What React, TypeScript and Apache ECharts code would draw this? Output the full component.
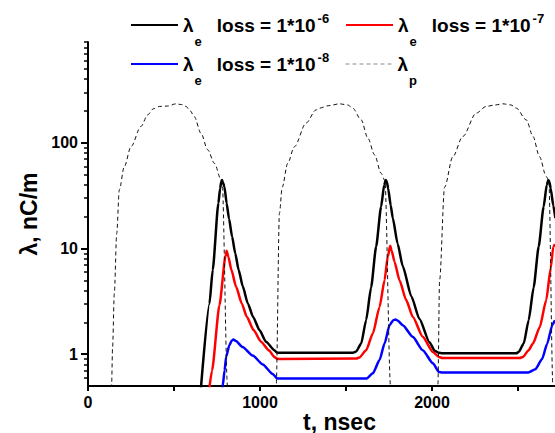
import React, { useEffect, useRef } from 'react';
import * as echarts from 'echarts';

const FONT = '"Liberation Sans", Arial, Helvetica, sans-serif';

// t (nsec) and λ (nC/m)
const blackT = [650, 706, 725, 758, 768, 775, 779, 785, 793, 806, 820, 838, 856, 876, 900, 929, 960, 997, 1035, 1084, 1097, 1110, 1540, 1559, 1588, 1617, 1646, 1675, 1704, 1722, 1731, 1738, 1745, 1760, 1772, 1800, 1830, 1880, 1927, 1985, 2015, 2040, 2060, 2490, 2504, 2533, 2562, 2591, 2620, 2649, 2667, 2676, 2683, 2690, 2705, 2717];
const blackV = [0.35, 3.0, 6.25, 26.8, 37, 43, 44.5, 42, 38.5, 26.8, 19.1, 12.9, 9.0, 6.25, 4.37, 3.02, 2.25, 1.69, 1.31, 1.09, 1.04, 1.03, 1.03, 1.06, 1.26, 2.1, 4.3, 10.4, 24.9, 40, 44.5, 42.4, 37.0, 25.5, 19.4, 11.1, 6.8, 3.52, 2.15, 1.30, 1.08, 1.03, 1.02, 1.02, 1.05, 1.26, 2.1, 4.3, 10.4, 24.9, 40, 44.5, 42.4, 37.0, 25.5, 19.4];

const redT = [700, 721, 764, 800, 806, 816, 834, 861, 894, 923, 963, 1006, 1051, 1084, 1097, 1110, 1560, 1578, 1617, 1656, 1695, 1724, 1743, 1757, 1765, 1782, 1811, 1850, 1888, 1946, 2005, 2040, 2060, 2510, 2528, 2562, 2587, 2626, 2664, 2690, 2705, 2715];
const redV = [0.4, 0.7, 2.9, 8.6, 9.5, 8.36, 6.25, 4.34, 3.02, 2.26, 1.69, 1.31, 1.09, 0.94, 0.91, 0.9, 0.91, 0.93, 1.09, 1.57, 2.8, 5.0, 8.4, 10.6, 9.6, 7.5, 5.0, 3.25, 2.26, 1.46, 1.05, 0.94, 0.92, 0.92, 0.94, 1.09, 1.26, 1.8, 3.25, 6.5, 10.4, 11];

const blueT = [778, 783, 794, 803, 822, 835, 845, 860, 899, 958, 1016, 1074, 1100, 1620, 1656, 1695, 1724, 1753, 1775, 1788, 1800, 1830, 1888, 1946, 2005, 2040, 2060, 2560, 2601, 2640, 2669, 2700, 2715];
const blueV = [0.42, 0.5, 0.7, 0.94, 1.22, 1.34, 1.38, 1.33, 1.17, 0.97, 0.8, 0.65, 0.59, 0.59, 0.66, 0.88, 1.26, 1.88, 2.1, 2.13, 2.08, 1.88, 1.46, 1.09, 0.82, 0.68, 0.67, 0.67, 0.72, 0.9, 1.25, 1.9, 2.1];

const pT = [135, 137, 143, 153, 167, 182, 211, 250, 308, 347, 380, 415, 463, 512, 545, 570, 595, 618, 657, 696, 735, 774, 780, 811, 812, 1093, 1094, 1113, 1129, 1161, 1200, 1268, 1326, 1345, 1400, 1462, 1510, 1539, 1588, 1627, 1666, 1704, 1726, 1759, 1760, 2033, 2034, 2044, 2073, 2121, 2179, 2257, 2315, 2365, 2412, 2460, 2490, 2548, 2587, 2625, 2664, 2679, 2703, 2704];
const pV = [0.3, 0.5, 1.17, 3.76, 13.9, 35.9, 59.6, 92, 143, 184, 210, 221, 223, 234, 230, 221, 200, 177, 123, 86, 64, 44.6, 43, 0.5, 0.05, 0.05, 0.5, 21.6, 38, 64, 92, 154, 205, 213, 225, 234, 228, 213, 165, 111, 77, 51.6, 44, 0.5, 0.05, 0.05, 0.5, 5, 38, 74, 115, 191, 221, 228, 234, 228, 213, 165, 115, 74, 48, 44, 0.5, 0.05];

const xTickValues = [0, 500, 1000, 1500, 2000, 2500];
const xLabelValues = [0, 1000, 2000];
const yMajorValues = [1, 10, 100];
const yMinorValues = [0.6, 0.7, 0.8, 0.9, 2, 3, 4, 5, 6, 7, 8, 9, 20, 30, 40, 50, 60, 70, 80, 90, 200, 300, 400, 500, 600, 700, 800, 900];

const seriesNames = ['λe loss = 1*10-6', 'λe loss = 1*10-7', 'λe loss = 1*10-8', 'λp'];
const legendLabels: Record<string, string> = {
  'λe loss = 1*10-6': 'λ{sub|e}loss = 1*10{sup|-6}',
  'λe loss = 1*10-7': 'λ{sub|e}loss = 1*10{sup|-7}',
  'λe loss = 1*10-8': 'λ{sub|e}loss = 1*10{sup|-8}',
  'λp': 'λ{subp|p}',
};

const zip = (t: number[], v: number[]) => t.map((x, i) => [x, v[i]]);

const subStyle = {
  fontFamily: FONT, fontWeight: 'bold' as const, fontSize: 13, color: '#000',
  verticalAlign: 'middle' as const, lineHeight: 13,
};

const legendText = {
  fontFamily: FONT,
  fontWeight: 'bold' as const,
  fontSize: 19,
  color: '#000',
  lineHeight: 20,
  verticalAlign: 'middle' as const,
  rich: {
    sub: { ...subStyle, padding: [33, 15, 0, 1] },
    subp: { ...subStyle, padding: [33, 0, 0, 1] },
    sup: { ...subStyle, padding: [0, 0, 13, 2] },
  },
};

const makeLegend = (name: string, left: number, top: number, lineColor?: string) => ({
  show: true,
  left,
  top,
  padding: 0,
  itemWidth: 47,
  itemHeight: 14,
  data: [lineColor ? { name, lineStyle: { color: lineColor, width: 1 } } : name],
  formatter: (n: string) => legendLabels[n] || n,
  textStyle: legendText,
  lineStyle: { width: 2 },
  itemStyle: { opacity: 0, borderWidth: 0 },
  selectedMode: false,
});

const lineSeries = (i: number, t: number[], v: number[], color: string) => ({
  name: seriesNames[i], type: 'line', yAxisIndex: 0, data: zip(t, v), symbol: 'none',
  smooth: 0.2, smoothMonotone: 'x', clip: true,
  lineStyle: { color, width: 2.5 }, itemStyle: { color },
});

const option = {
  animation: false,
  backgroundColor: '#fff',
  grid: { left: 88, right: 0, top: 42, bottom: 47, containLabel: false, outerBoundsMode: 'none' },
  legend: [
    makeLegend(seriesNames[0], 130, 2),
    makeLegend(seriesNames[1], 345, 2),
    makeLegend(seriesNames[2], 130, 41),
    makeLegend(seriesNames[3], 345, 41, '#888'),
  ],
  xAxis: {
    type: 'value',
    min: 0,
    max: 2715,
    axisLine: { show: true, onZero: false, lineStyle: { color: '#000', width: 2 } },
    axisTick: { show: true, customValues: xTickValues, length: 5, lineStyle: { color: '#000', width: 2 } },
    axisLabel: {
      customValues: xLabelValues,
      formatter: (v: number) => String(v),
      fontFamily: FONT, fontWeight: 'bold', fontSize: 16, color: '#000', margin: 8,
    },
    splitLine: { show: false },
    name: 't, nsec',
    nameLocation: 'middle',
    nameGap: 24,
    nameMoveOverlap: false,
    nameTextStyle: { fontFamily: FONT, fontWeight: 'bold', fontSize: 23, color: '#000', padding: [0, 0, 0, 36] },
  },
  yAxis: [
    {
      type: 'log',
      logBase: 10,
      min: 0.5,
      max: 900,
      position: 'left',
      axisLine: { show: true, lineStyle: { color: '#000', width: 2 } },
      axisTick: { show: true, customValues: yMajorValues, length: 7, lineStyle: { color: '#000', width: 2 } },
      axisLabel: {
        customValues: yMajorValues,
        fontFamily: FONT, fontWeight: 'bold', fontSize: 16, color: '#000', margin: 10,
      },
      splitLine: { show: false },
      minorTick: { show: false },
      name: 'λ, nC/m',
      nameLocation: 'middle',
      nameGap: 48,
      nameRotate: 90,
      nameMoveOverlap: false,
      nameTextStyle: { fontFamily: FONT, fontWeight: 'bold', fontSize: 23, color: '#000' },
    },
    {
      type: 'log',
      logBase: 10,
      min: 0.5,
      max: 900,
      position: 'left',
      axisLine: { show: false },
      axisTick: { show: true, customValues: yMinorValues, length: 4, lineStyle: { color: '#000', width: 1.5 } },
      axisLabel: { show: false },
      splitLine: { show: false },
    },
  ],
  series: [
    lineSeries(0, blackT, blackV, '#000'),
    lineSeries(1, redT, redV, '#ff0000'),
    lineSeries(2, blueT, blueV, '#0000ff'),
    {
      name: seriesNames[3], type: 'line', yAxisIndex: 0, data: zip(pT, pV), symbol: 'none',
      smooth: 0.3, smoothMonotone: 'x', clip: true,
      lineStyle: { color: '#111', width: 1, type: [4, 3] }, itemStyle: { color: '#111' },
    },
  ],
};

export default function App() {
  const ref = useRef<HTMLDivElement>(null);
  useEffect(() => {
    const chart = echarts.init(ref.current!, null, { renderer: 'svg' });
    chart.setOption(option as any);
    return () => chart.dispose();
  }, []);
  return (
    <div
      ref={ref}
      style={{ position: 'absolute', left: 0, top: 0, width: 555, height: 433, background: '#fff' }}
    />
  );
}
